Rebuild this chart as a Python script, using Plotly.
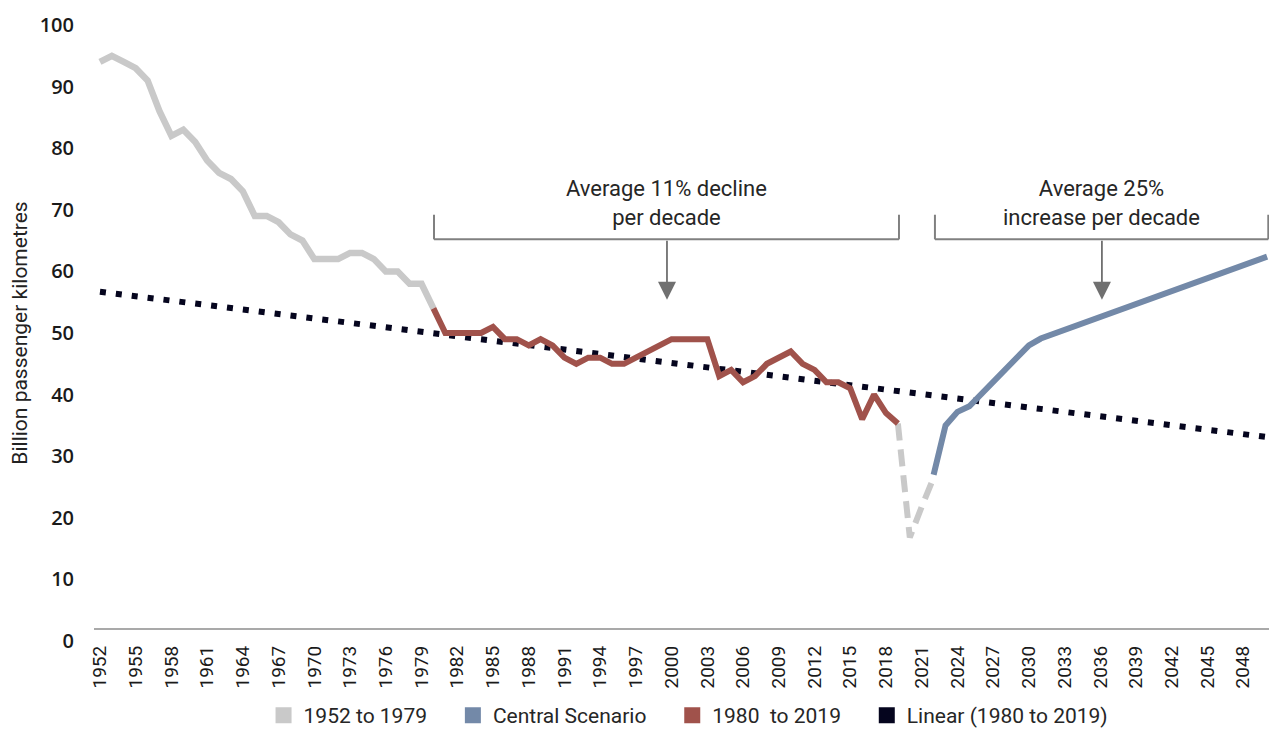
import plotly.graph_objects as go

# Historic series 1952-1980 (grey)
early_years = list(range(1952, 1981))
early_values = [94, 95, 94, 93, 91, 86, 82, 83, 81, 78, 76, 75, 73, 69, 69, 68,
                66, 65, 62, 62, 62, 63, 63, 62, 60, 60, 58, 58, 54]

# 1980-2019 (red)
mid_years = list(range(1980, 2020))
mid_values = [54, 50, 50, 50, 50, 51, 49, 49, 48, 49, 48, 46, 45, 46, 46, 45,
              45, 46, 47, 48, 49, 49, 49, 49, 43, 44, 42, 43, 45, 46, 47, 45,
              44, 42, 42, 41, 36, 40, 37, 35.3]

# Covid dip (grey dashed)
dip_years = [2019, 2020, 2021, 2022]
dip_values = [35.3, 16.8, 21.8, 26.5]

# Central scenario (blue)
central_years = [2022, 2023, 2024, 2025, 2030, 2031, 2050]
central_values = [27, 35, 37.2, 38.1, 48, 49.1, 62.4]

# Linear trend of 1980-2019, extended
trend_years = [1952, 2050]
trend_values = [56.7, 33.1]

tick_years = list(range(1952, 2049, 3))

GREY = '#C9C9C9'
RED = '#A0524B'
BLUE = '#7389A8'
DARK = '#05051E'
BRACKET = '#808080'
PAD = '\u00a0' * 4

fig = go.Figure()

fig.add_trace(go.Scatter(x=trend_years, y=trend_values, mode='lines',
                         line=dict(color=DARK, width=6, dash='6px,10px'),
                         showlegend=False, hoverinfo='skip'))
fig.add_trace(go.Scatter(x=early_years, y=early_values, mode='lines',
                         line=dict(color=GREY, width=6.5), showlegend=False))
fig.add_trace(go.Scatter(x=dip_years, y=dip_values, mode='lines',
                         line=dict(color=GREY, width=6, dash='17px,9px'),
                         showlegend=False))
fig.add_trace(go.Scatter(x=mid_years, y=mid_values, mode='lines',
                         line=dict(color=RED, width=6), showlegend=False))
fig.add_trace(go.Scatter(x=central_years, y=central_values, mode='lines',
                         line=dict(color=BLUE, width=6), showlegend=False))

# legend entries drawn as squares
for name, col in [('1952 to 1979' + PAD, GREY), ('Central Scenario' + PAD, BLUE),
                  ('1980  to 2019' + PAD, RED), ('Linear (1980 to 2019)', DARK)]:
    fig.add_trace(go.Scatter(x=[None], y=[None], mode='markers', name=name,
                             marker=dict(symbol='square', size=18, color=col)))

shapes = []
# bracket lines
for x0, x1 in [(1980.05, 2019.09), (2022.11, 2050.1)]:
    shapes.append(dict(type='line', xref='x', yref='y', x0=x0, x1=x1, y0=65.2, y1=65.2,
                       line=dict(color=BRACKET, width=2)))
    for xv in (x0, x1):
        shapes.append(dict(type='line', xref='x', yref='y', x0=xv, x1=xv, y0=65.2, y1=69.2,
                           line=dict(color=BRACKET, width=2)))
# bottom axis line
shapes.append(dict(type='line', xref='paper', yref='paper', x0=0, x1=1, y0=0.0194, y1=0.0194,
                   line=dict(color='#8C8C8C', width=1.5)))

annotations = []
for xa, txt in [(1999.61, 'Average 11% decline<br>per decade'),
                (2036.13, 'Average 25%<br>increase per decade')]:
    annotations.append(dict(x=xa, y=55.4, ax=xa, ay=65.2, xref='x', yref='y',
                            axref='x', ayref='y', text='', showarrow=True,
                            arrowhead=2, arrowsize=2, arrowwidth=1.8,
                            arrowcolor='#707070'))
    annotations.append(dict(x=xa, y=71.15, xref='x', yref='y', text=txt,
                            showarrow=False, yanchor='middle',
                            font=dict(family='Roboto', size=22, color='#262626')))

fig.update_layout(
    width=1269, height=736,
    margin=dict(l=94, r=0, t=25, b=94),
    plot_bgcolor='white', paper_bgcolor='white',
    font=dict(family='Roboto', color='#222222'),
    shapes=shapes,
    annotations=annotations,
    legend=dict(orientation='h', x=0.506, xanchor='center', y=-0.1216, yanchor='middle',
                font=dict(family='Roboto', size=21, color='#262626'),
                itemwidth=30),
    xaxis=dict(range=[1951.5, 2050.16], showgrid=False, zeroline=False, showline=False,
               automargin=False,
               tickmode='array', tickvals=tick_years, ticktext=[str(y) for y in tick_years],
               tickangle=-90, ticks='',
               tickfont=dict(family='Roboto', size=19, color='#1A1A1A')),
    yaxis=dict(range=[0, 100], showgrid=False, zeroline=False, showline=False,
               automargin=False,
               tickmode='array', tickvals=list(range(0, 101, 10)), ticks='',
               ticklabelstandoff=19,
               tickfont=dict(family='Open Sans', size=20, color='#1A1A1A', weight=600),
               title=dict(text='Billion passenger kilometres', standoff=6,
                          font=dict(family='Roboto', size=21, color='#222222'))),
)

# drop the default page margin so the figure fills the window exactly
fig.write_html('out.html', config={'displayModeBar': False},
               post_script="document.body.style.margin='0';document.body.style.overflow='hidden';")
